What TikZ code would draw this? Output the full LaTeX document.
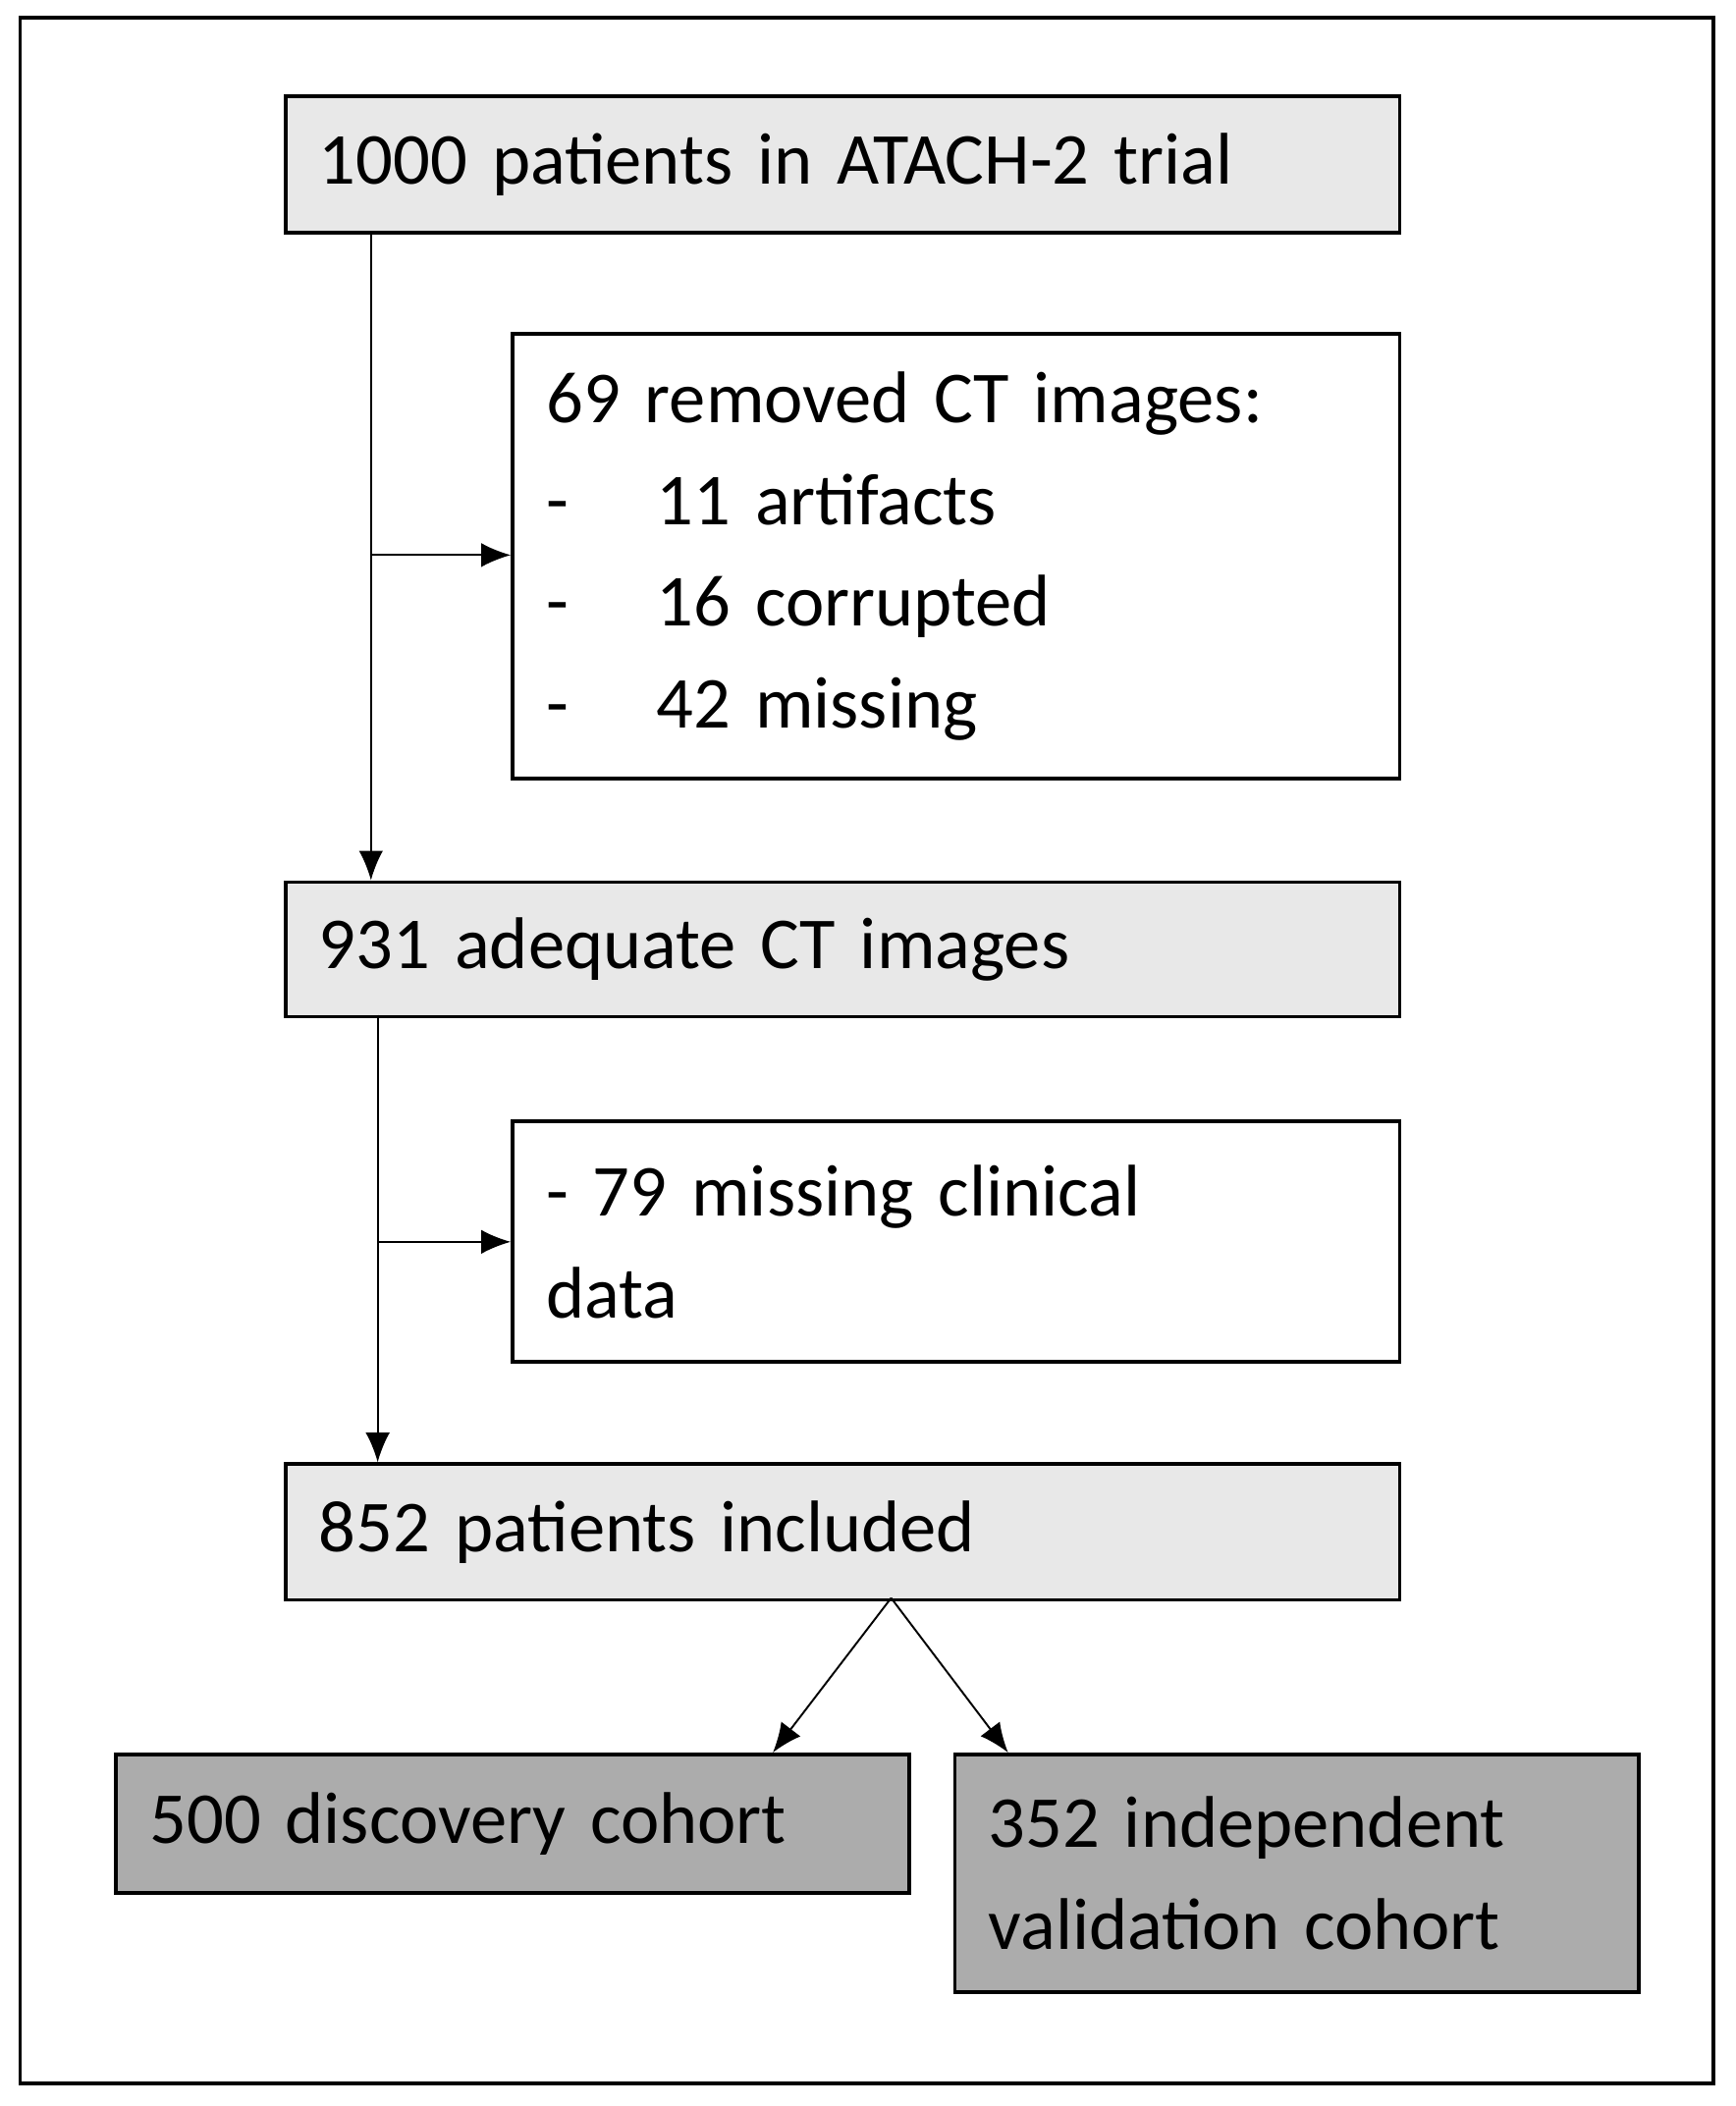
\documentclass[tikz,border=0pt]{standalone}
\usepackage{fontspec}
\setmainfont{Carlito}
\usepackage{tikz}
\usetikzlibrary{arrows.meta}

\begin{document}
\begin{tikzpicture}[
  every node/.style={font=\fontsize{15.5}{21.5}\selectfont},
  box/.style={draw,thick,anchor=north west,align=left,inner xsep=0.25cm,inner ysep=0pt},
  edge/.style={-{Latex[length=2.2mm,width=1.8mm]}}
  ]
  \useasboundingbox (0,0) rectangle (12.91,-15.67);
  \draw[thick] (0.15,-0.13) rectangle (12.75,-15.50);

  \node[box,fill=gray!18,minimum width=8.29cm,minimum height=1.02cm,text width=7.79cm] (trial) at (2.11,-0.70) {1000 patients in ATACH-2 trial};
  \node[box,minimum width=6.60cm,minimum height=3.31cm,text width=6.10cm] (removed) at (3.80,-2.47)
    {69 removed CT images:\\ -\hspace{1.2em}11 artifacts\\ -\hspace{1.2em}16 corrupted\\ -\hspace{1.2em}42 missing};
  \node[box,fill=gray!18,minimum width=8.29cm,minimum height=1.00cm,text width=7.79cm] (adequate) at (2.11,-6.55) {931 adequate CT images};
  \node[box,minimum width=6.60cm,minimum height=1.79cm,text width=6.10cm] (clinical) at (3.80,-8.33) {- 79 missing clinical\\ data};
  \node[box,fill=gray!18,minimum width=8.29cm,minimum height=1.01cm,text width=7.79cm] (included) at (2.11,-10.88) {852 patients included};
  \node[box,fill=gray!65,minimum width=5.90cm,minimum height=1.03cm,text width=5.40cm] (discovery) at (0.85,-13.04) {500 discovery cohort};
  \node[box,fill=gray!65,minimum width=5.09cm,minimum height=1.77cm,text width=4.59cm] (validation) at (7.09,-13.04) {352 independent\\ validation cohort};

  \coordinate (s1) at (2.76,-1.72);
  \coordinate (b1) at (2.76,-4.13);
  \coordinate (s2) at (2.81,-7.55);
  \coordinate (b2) at (2.81,-9.24);
  \coordinate (fork) at (6.63,-11.89);

  \draw[edge] (s1) -- (2.76,-6.55);
  \draw[edge] (b1) -- (removed.west |- b1);
  \draw[edge] (s2) -- (2.81,-10.88);
  \draw[edge] (b2) -- (clinical.west |- b2);
  \draw[edge] (fork) -- (5.75,-13.04);
  \draw[edge] (fork) -- (7.50,-13.04);
\end{tikzpicture}
\end{document}
